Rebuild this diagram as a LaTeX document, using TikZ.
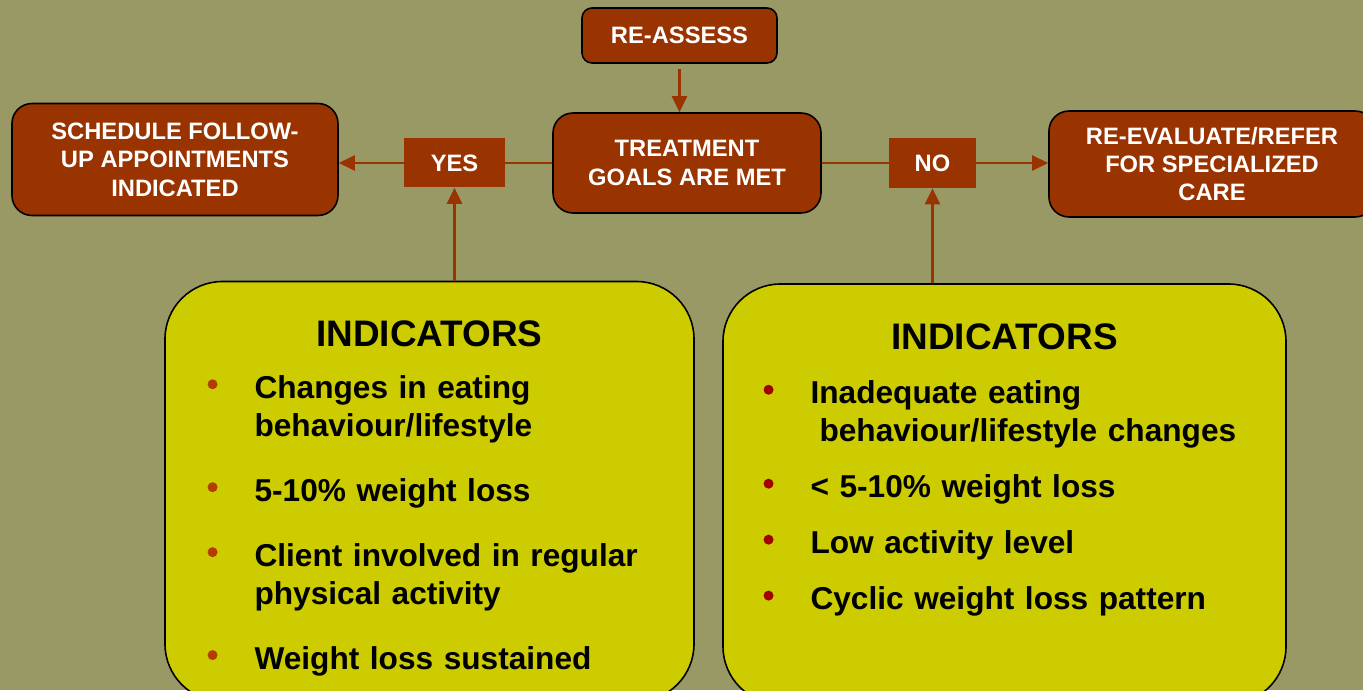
\documentclass[tikz,border=0pt]{standalone}
\usepackage{fontspec}
\setmainfont{Liberation Sans}
\usetikzlibrary{arrows.meta}
\definecolor{olivebg}{HTML}{999966}
\definecolor{brick}{HTML}{993300}
\definecolor{lime}{HTML}{CCCC00}
\definecolor{dotleft}{HTML}{B33C00}
\definecolor{dotright}{HTML}{A00000}
\newcommand{\boxfont}{\fontsize{13.5}{16.2}\selectfont\bfseries}
\newcommand{\titlefont}{\fontsize{21}{25}\selectfont\bfseries}
\newcommand{\listfont}{\fontsize{18}{21.6}\selectfont\bfseries}
\newcommand{\inddot}[1]{\tikz[baseline={(0,-0.28cm)}]\fill[#1] (0,0) circle (0.1cm);}
\newenvironment{indlist}[2]{%
  \begin{list}{\inddot{#1}}{\setlength{\leftmargin}{0.94cm}\setlength{\labelwidth}{0.2cm}%
    \setlength{\labelsep}{0.74cm}\setlength{\itemsep}{#2}\setlength{\parsep}{0pt}%
    \setlength{\topsep}{0pt}\setlength{\partopsep}{0pt}}}%
  {\end{list}}
\begin{document}
\begin{tikzpicture}[
  goal/.style={rectangle, rounded corners=0.4cm, draw=black, line width=0.9pt, fill=brick, text=white, align=center, font=\boxfont},
  tag/.style={rectangle, fill=brick, text=white, font=\boxfont},
  panel/.style={rectangle, rounded corners=1.15cm, draw=black, line width=0.9pt, fill=lime, minimum height=8.4cm},
  listtext/.style={inner sep=0pt, font=\listfont},
  link/.style={draw=brick, line width=1.3pt},
  arr/.style={link, -{Triangle[length=0.32cm, width=0.3cm]}},
  node distance=2cm
]
\useasboundingbox (-13.74,-10.54) rectangle (13.52,3.26);
\fill[olivebg] (-13.74,-10.54) rectangle (13.52,3.26);

\node[goal, minimum width=5.36cm, minimum height=2cm] (treat) {TREATMENT\\GOALS ARE MET};
\node[goal, rounded corners=0.2cm, minimum width=3.9cm, minimum height=1.1cm, above of=treat, node distance=2.55cm, xshift=-0.15cm] (reassess) {RE-ASSESS};
\node[tag, minimum width=2.02cm, minimum height=0.98cm, left of=treat, node distance=4.65cm] (yes) {YES};
\node[goal, minimum width=6.52cm, minimum height=2.24cm, left of=yes, node distance=5.59cm, yshift=0.07cm] (sched) {SCHEDULE FOLLOW-\\UP APPOINTMENTS\\INDICATED};
\node[tag, minimum width=1.74cm, minimum height=1cm, right of=treat, node distance=4.91cm] (no) {NO};
\node[goal, minimum width=6.52cm, minimum height=2.12cm, right of=no, node distance=5.59cm, yshift=-0.02cm] (reeval) {RE-EVALUATE/REFER\\FOR SPECIALIZED\\CARE};
\node[panel, minimum width=10.58cm, below of=yes, node distance=6.57cm, xshift=-0.5cm] (yespanel) {};
\node[panel, minimum width=11.26cm, below of=no, node distance=6.62cm, xshift=1.44cm] (nopanel) {};

\node[font=\titlefont, anchor=base] (yestitle) at ([yshift=-1.32cm]yespanel.north) {INDICATORS};
\node[font=\titlefont, anchor=base] (notitle) at ([yshift=-1.32cm]nopanel.north) {INDICATORS};
\node[listtext, text width=9.5cm, anchor=north west] (yeslist) at ([xshift=0.86cm, yshift=-1.585cm]yespanel.north west) {%
  \begin{indlist}{dotleft}{0.54cm}
  \item Changes in eating\newline behaviour/lifestyle
  \item 5-10\% weight loss
  \item Client involved in regular\newline physical activity
  \item Weight loss sustained
  \end{indlist}};
\node[listtext, text width=10cm, anchor=north west] (nolist) at ([xshift=0.82cm, yshift=-1.645cm]nopanel.north west) {%
  \begin{indlist}{dotright}{0.36cm}
  \item Inadequate eating\newline\hspace*{0.18cm}behaviour/lifestyle changes
  \item < 5-10\% weight loss
  \item Low activity level
  \item Cyclic weight loss pattern
  \end{indlist}};

\draw[arr, shorten <=0.1cm] (reassess.south) -- (reassess.south |- treat.north);
\draw[link] (treat.west) -- (yes.east);
\draw[arr] (yes.west) -- (yes.west -| sched.east);
\draw[arr] (yes |- yespanel.north) -- (yes.south);
\draw[link] (treat.east) -- (no.west);
\draw[arr] (no.east) -- (no.east -| reeval.west);
\draw[arr] (no |- nopanel.north) -- (no.south);
\end{tikzpicture}
\end{document}
